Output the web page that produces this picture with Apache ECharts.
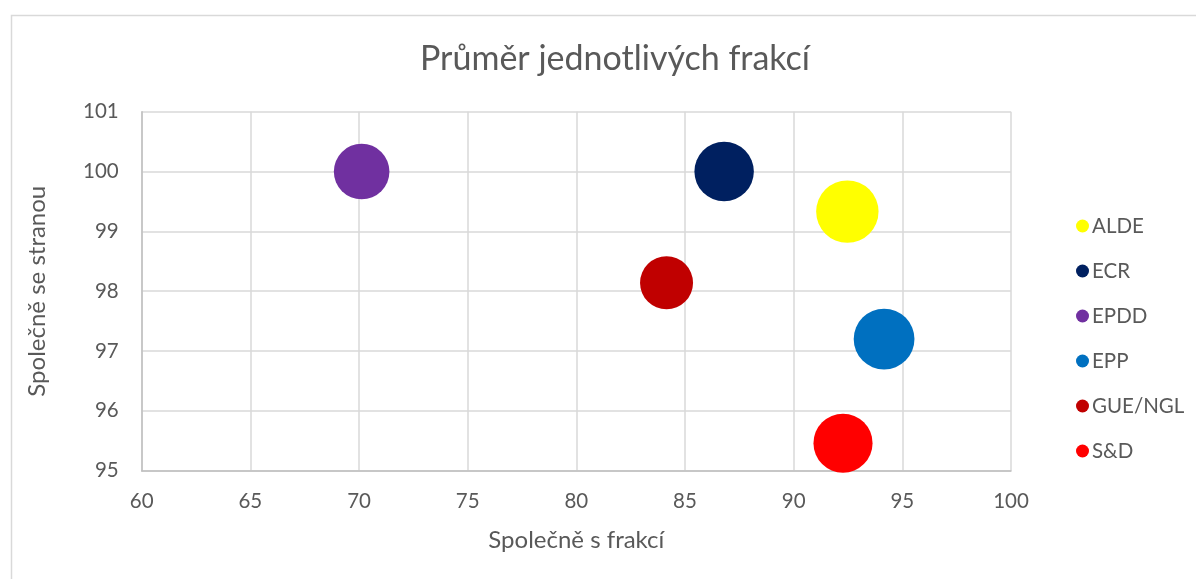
<!DOCTYPE html>
<html>
<head>
<meta charset="utf-8">
<script src="https://cdn.jsdelivr.net/npm/echarts@6/dist/echarts.min.js"></script>
<style>html,body{margin:0;padding:0;background:#fff}#c{width:1196px;height:579px}</style>
</head>
<body>
<div id="c"></div>
<script>
const parties = ['ALDE', 'ECR', 'EPDD', 'EPP', 'GUE/NGL', 'S&D'];
const withFaction = [92.47, 86.8, 70.12, 94.16, 84.15, 92.27];
const withParty = [99.33, 100.0, 100.0, 97.2, 98.14, 95.46];
const bubbleSize = [97, 88, 77, 92, 70, 87];
const xTicks = [60, 65, 70, 75, 80, 85, 90, 95, 100];
const yTicks = [95, 96, 97, 98, 99, 100, 101];

const colors = ['#FFFF00', '#002060', '#7030A0', '#0070C0', '#C00000', '#FF0000'];
const FONT = 'Lato';
const TXT = '#595959';
const maxSize = Math.max(...bubbleSize);

const chart = echarts.init(document.getElementById('c'), null, {renderer: 'canvas'});
chart.setOption({
  animation: false,
  backgroundColor: '#fff',
  color: colors,
  graphic: [{
    type: 'rect', left: 9, top: 13, silent: true,
    shape: {width: 1200, height: 600},
    style: {fill: 'none', stroke: '#d9d9d9', lineWidth: 1.5}
  }],
  title: {
    text: 'Průměr jednotlivých frakcí',
    left: 610, textAlign: 'center', top: 37,
    textStyle: {fontFamily: FONT, fontSize: 34, fontWeight: 'normal', color: TXT}
  },
  legend: {
    orient: 'vertical',
    left: 1071, top: 209,
    itemWidth: 13, itemHeight: 13, itemGap: 21,
    icon: 'circle',
    data: parties,
    textStyle: {fontFamily: FONT, fontSize: 20.5, color: TXT, lineHeight: 24, padding: [0, 0, 0, -2]}
  },
  grid: {left: 141.7, right: 185, top: 111.7, bottom: 108.3, containLabel: false},
  xAxis: {
    type: 'value', min: xTicks[0], max: xTicks[xTicks.length - 1], interval: 5,
    name: 'Společně s frakcí', nameLocation: 'middle', nameGap: 58,
    nameTextStyle: {fontFamily: FONT, fontSize: 24, color: TXT},
    axisLine: {show: true, lineStyle: {color: '#bfbfbf', width: 1.5}},
    axisTick: {show: false},
    axisLabel: {fontFamily: FONT, fontSize: 20.5, color: TXT, margin: 20},
    splitLine: {show: true, lineStyle: {color: '#d9d9d9', width: 1.5}}
  },
  yAxis: {
    type: 'value', min: yTicks[0], max: yTicks[yTicks.length - 1], interval: 1,
    name: 'Společně se stranou', nameLocation: 'middle', nameGap: 92, nameRotate: 90,
    nameTextStyle: {fontFamily: FONT, fontSize: 24, color: TXT},
    axisLine: {show: true, lineStyle: {color: '#bfbfbf', width: 1.5}},
    axisTick: {show: false},
    axisLabel: {fontFamily: FONT, fontSize: 20.5, color: TXT, margin: 23},
    splitLine: {show: true, lineStyle: {color: '#d9d9d9', width: 1.5}}
  },
  series: parties.map((p, i) => ({
    name: p,
    type: 'scatter',
    symbol: 'circle',
    symbolSize: d => 62.4 * Math.sqrt(d[2] / maxSize),
    itemStyle: {color: colors[i], opacity: 1},
    data: [[withFaction[i], withParty[i], bubbleSize[i]]]
  }))
});
</script>
</body>
</html>
